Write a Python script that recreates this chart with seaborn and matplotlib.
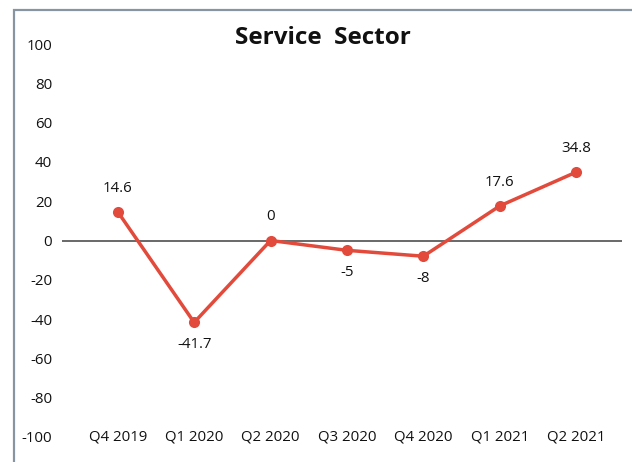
import matplotlib
matplotlib.use("Agg")
import matplotlib.pyplot as plt
from matplotlib.patches import Rectangle
import seaborn as sns
import pandas as pd

quarters = ["Q4 2019", "Q1 2020", "Q2 2020", "Q3 2020", "Q4 2020", "Q1 2021", "Q2 2021"]
values = [14.6, -41.7, 0, -5, -8, 17.6, 34.8]
label_above = [True, False, True, False, False, True, True]
y_ticks = [100, 80, 60, 40, 20, 0, -20, -40, -60, -80, -100]

sns.set_theme(style="white")
plt.rcParams["font.family"] = ["Open Sans", "DejaVu Sans"]

W, H = 632, 462
fig = plt.figure(figsize=(W / 100, H / 100), dpi=100)
fig.patch.set_facecolor("white")

# frame around the chart area (open to the right and bottom)
fig.patches.append(Rectangle((13.5 / W, -0.1), 1.2, (H - 10.5) / H + 0.1,
                             transform=fig.transFigure, fill=False,
                             edgecolor="#8794a2", linewidth=1.6, zorder=0))

ax = fig.add_axes([62 / W, (H - 437) / H, (622 - 62) / W, (437 - 44) / H])
ax.set_facecolor("none")

df = pd.DataFrame({"quarter": quarters, "value": values})
df["pos"] = range(len(quarters))

ax.axhline(0, color="#404040", linewidth=1.1, zorder=1)
sns.lineplot(data=df, x="pos", y="value", ax=ax, color="#e24a3b",
             linewidth=2.5, marker="o", markersize=8, markeredgewidth=0,
             zorder=3)

for x, v, up in zip(df["pos"], values, label_above):
    txt = f"{v:g}"
    ax.annotate(txt, (x, v), xytext=(0, 17 if up else -16),
                textcoords="offset points", ha="center", va="center",
                fontsize=10.8, color="#111111")

ax.set_xlim(-0.73, 6.6)
ax.set_ylim(-100, 100)
ax.set_yticks(y_ticks)
ax.set_yticklabels([str(t) for t in y_ticks])
ax.set_xticks(list(df["pos"]))
ax.set_xticklabels(quarters)
ax.tick_params(axis="both", length=0, labelsize=10.8, colors="#111111")
ax.tick_params(axis="y", pad=7)
ax.tick_params(axis="x", pad=0)
for lbl in ax.get_xticklabels():
    lbl.set_va("center")
ax.set_xlabel("")
ax.set_ylabel("")
for s in ax.spines.values():
    s.set_visible(False)

fig.text(323 / W, (H - 38) / H, "Service  Sector", ha="center", va="center",
         fontsize=17.5, fontweight="bold", color="#111111")

fig.savefig("out.png", dpi=100)
